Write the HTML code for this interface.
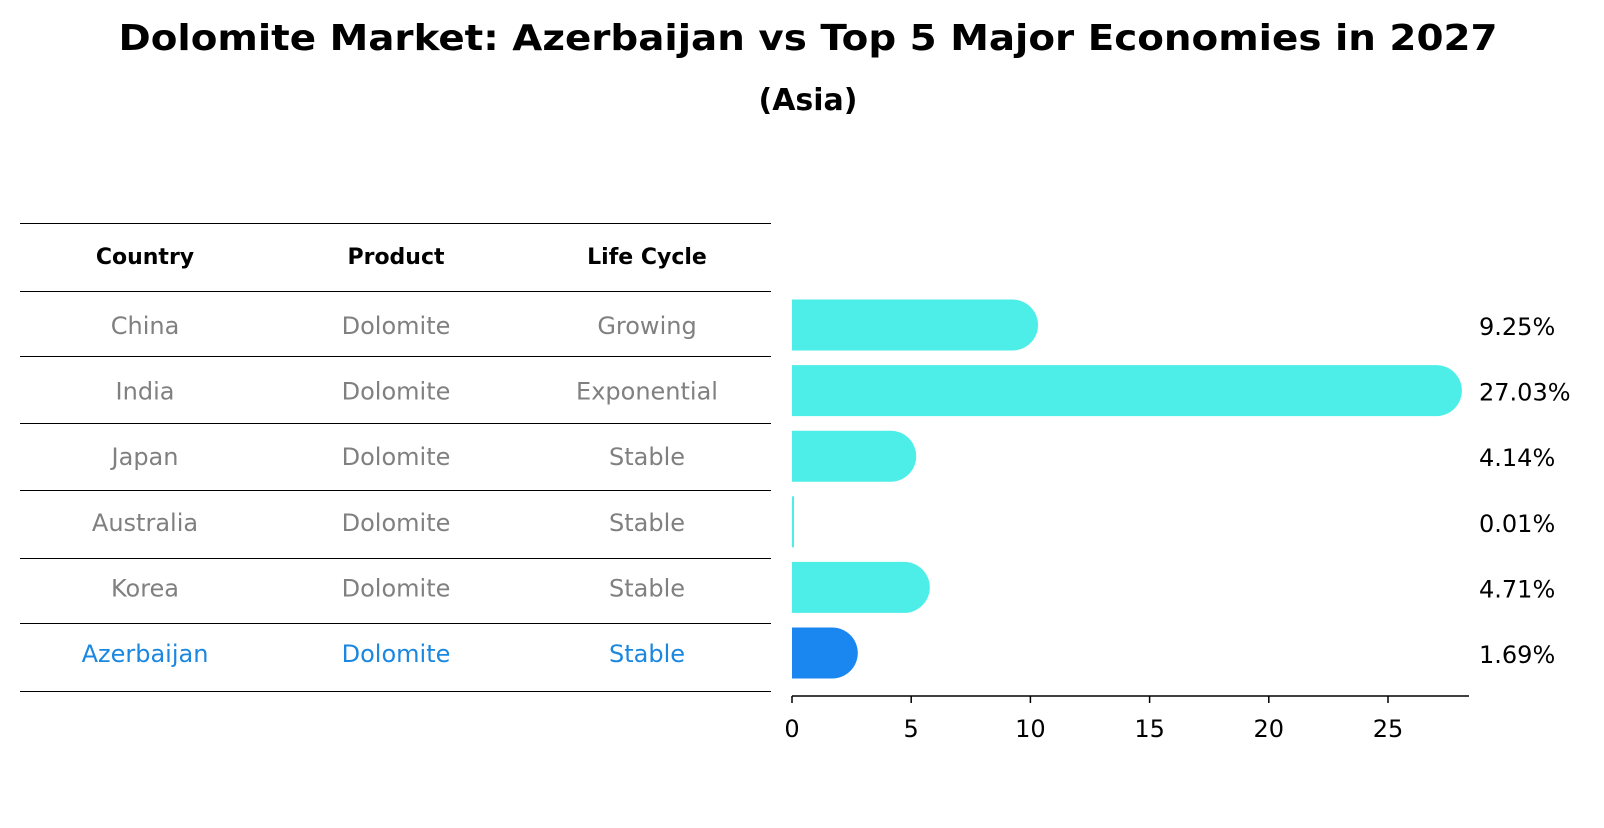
<!DOCTYPE html>
<html><head><meta charset="utf-8"><style>
body{margin:0;background:#fff;}
svg text{font-family:"DejaVu Sans","Liberation Sans",sans-serif;}
</style></head><body>
<svg width="1604" height="823" xmlns="http://www.w3.org/2000/svg">
<text x="808" y="50" text-anchor="middle" font-size="36" font-weight="bold" textLength="1379" lengthAdjust="spacingAndGlyphs">Dolomite Market: Azerbaijan vs Top 5 Major Economies in 2027</text>
<text x="808" y="110" text-anchor="middle" font-size="30" font-weight="bold">(Asia)</text>
<g id="table"></g>
<g id="bars"></g>
</svg>
<script>
const countries=["China","India","Japan","Australia","Korea","Azerbaijan"];
const products=["Dolomite","Dolomite","Dolomite","Dolomite","Dolomite","Dolomite"];
const lifeCycles=["Growing","Exponential","Stable","Stable","Stable","Stable"];
const values=[9.25,27.03,4.14,0.01,4.71,1.69];
const valueLabels=["9.25%","27.03%","4.14%","0.01%","4.71%","1.69%"];
const ticks=[0,5,10,15,20,25];
const NS="http://www.w3.org/2000/svg";
function mk(t,a,p,txt){const e=document.createElementNS(NS,t);for(const k in a)e.setAttribute(k,a[k]);if(txt!==undefined)e.textContent=txt;p.appendChild(e);return e;}
const x=v=>792+v*23.84;
const rowY=i=>325+i*65.6;
const tbl=document.getElementById('table');
const lineYs=[223,291,356,423,490,558,623,691];
lineYs.forEach((y,i)=>{const l=mk('line',{x1:20,x2:771,y1:y+0.5,y2:y+0.5,stroke:'#000','stroke-width':1},tbl);

});
const cx=[145,396,647];
["Country","Product","Life Cycle"].forEach((h,j)=>{const t=mk('text',{x:cx[j],y:264,'text-anchor':'middle','font-size':22,'font-weight':'bold'},tbl,h);

});
countries.forEach((c,i)=>{
 const col=i===countries.length-1?'#1a87e0':'#808080';
 [c,products[i],lifeCycles[i]].forEach((s,j)=>{
  const t=mk('text',{x:cx[j],y:rowY(i)+9,'text-anchor':'middle','font-size':24,fill:col},tbl,s);
  
  
 });
});
const bars=document.getElementById('bars');
const h=51,r=25.5;
values.forEach((v,i)=>{
 const col=i===values.length-1?'#1a87f0':'#4deee8';
 const y0=rowY(i)-h/2, x0=x(0), x1=x(v);
 let d;
 if(v<0.5){d=`M${x0},${y0}h2v${h}h-2z`;}
 else d=`M${x0},${y0}H${x1}A${r},${r} 0 0 1 ${x1},${y0+h}H${x0}Z`;
 const p=mk('path',{d:d,fill:col},bars);
 
 
 const t=mk('text',{x:1479,y:rowY(i)+10,'font-size':24},bars,valueLabels[i]);
 
 
});
const ax=mk('line',{x1:x(0),x2:1469,y1:696,y2:696,stroke:'#000','stroke-width':1.5},bars);


ticks.forEach(tv=>{
 const l=mk('line',{x1:x(tv),x2:x(tv),y1:696,y2:703,stroke:'#000','stroke-width':1.5},bars);
 
 
 const t=mk('text',{x:x(tv),y:737,'text-anchor':'middle','font-size':24},bars,String(tv));
 
 
});
</script>
</body></html>
